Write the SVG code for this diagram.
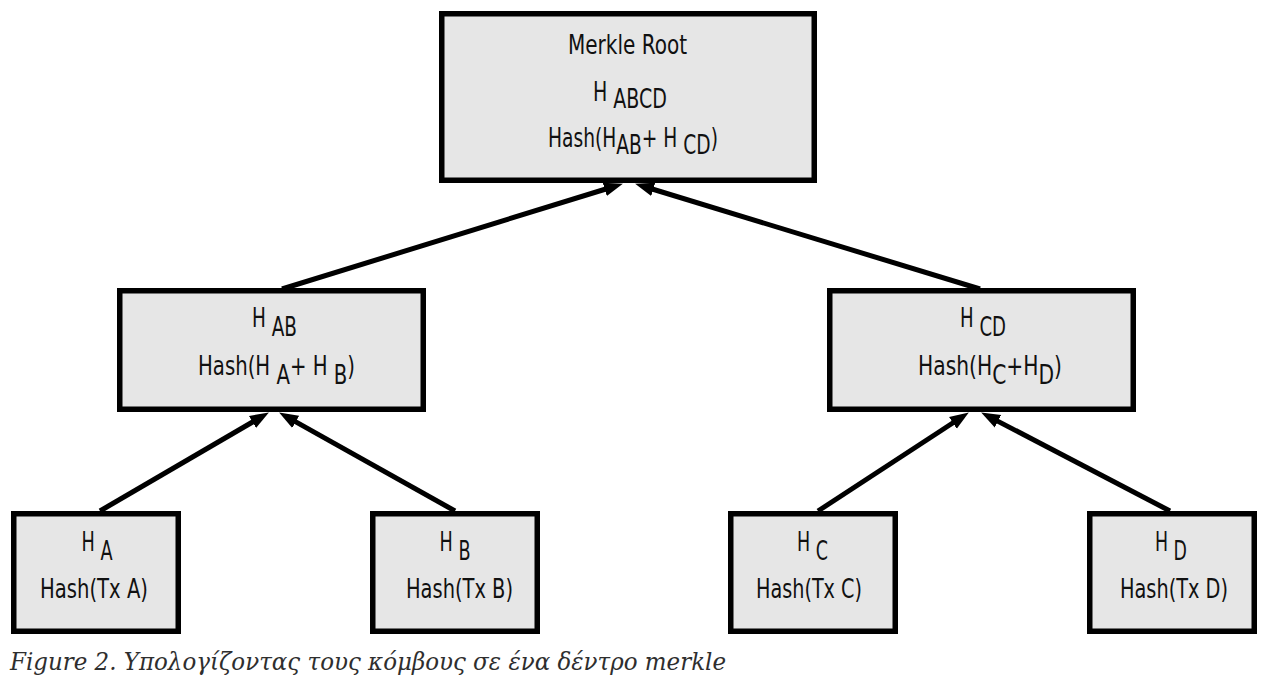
<svg xmlns="http://www.w3.org/2000/svg" width="1273" height="688" viewBox="0 0 1273 688">
<defs>
<style>
.box{fill:#e6e6e6;stroke:#000;stroke-width:5.5}
.t{font-family:"DejaVu Sans Condensed","Liberation Sans Narrow","Liberation Sans",sans-serif;font-size:26px;fill:#111;text-anchor:middle}
.c{stroke:#000;stroke-width:5;fill:none;marker-end:url(#ah)}
.cap{font-family:"DejaVu Serif","Liberation Serif",serif;font-style:italic;font-size:24px;fill:#2e2e2e}
</style>
<marker id="ah" markerUnits="userSpaceOnUse" markerWidth="20" markerHeight="16" refX="8" refY="8" orient="auto">
<path d="M0,1 L19,8 L0,15 z" fill="#000"/>
</marker>
</defs>
<rect width="1273" height="688" fill="#fff"/>
<g id="connectors">
<line class="c" x1="100" y1="511" x2="259.4" y2="418"/>
<line class="c" x1="455" y1="511" x2="288.7" y2="417.9"/>
<line class="c" x1="818" y1="511" x2="959.6" y2="418.5"/>
<line class="c" x1="1170" y1="511" x2="990.9" y2="417.6"/>
<line class="c" x1="282" y1="289" x2="612.4" y2="187"/>
<line class="c" x1="980" y1="289" x2="645.6" y2="187"/>
</g>
<g id="root">
<rect class="box" x="441.75" y="13.75" width="372.5" height="166.5"/>
<text class="t" x="627.5" y="54" textLength="119" lengthAdjust="spacingAndGlyphs">Merkle Root</text>
<text class="t" x="630" y="101" textLength="74" lengthAdjust="spacingAndGlyphs">H <tspan dy="7">ABCD</tspan></text>
<text class="t" x="633" y="147" textLength="170" lengthAdjust="spacingAndGlyphs">Hash(H<tspan dy="7">AB</tspan><tspan dy="-7">+ H </tspan><tspan dy="7">CD</tspan><tspan dy="-7">)</tspan></text>
</g>
<g id="hab">
<rect class="box" x="119.75" y="290.75" width="303.5" height="118.5"/>
<text class="t" x="274.5" y="327" textLength="45" lengthAdjust="spacingAndGlyphs">H <tspan dy="9">AB</tspan></text>
<text class="t" x="276.5" y="375" textLength="157" lengthAdjust="spacingAndGlyphs">Hash(H<tspan dy="9"> A</tspan><tspan dy="-9">+ H </tspan><tspan dy="9">B</tspan><tspan dy="-9">)</tspan></text>
</g>
<g id="hcd">
<rect class="box" x="829.75" y="290.75" width="303.5" height="118.5"/>
<text class="t" x="983" y="327" textLength="46" lengthAdjust="spacingAndGlyphs">H <tspan dy="9">CD</tspan></text>
<text class="t" x="990" y="375" textLength="144" lengthAdjust="spacingAndGlyphs">Hash(H<tspan dy="9">C</tspan><tspan dy="-9">+H</tspan><tspan dy="9">D</tspan><tspan dy="-9">)</tspan></text>
</g>
<g id="ha">
<rect class="box" x="13.75" y="513.75" width="164.5" height="117.5"/>
<text class="t" x="97" y="551" textLength="31" lengthAdjust="spacingAndGlyphs">H <tspan dy="9">A</tspan></text>
<text class="t" x="94" y="598" textLength="108" lengthAdjust="spacingAndGlyphs">Hash(Tx A)</text>
</g>
<g id="hb">
<rect class="box" x="372.75" y="513.75" width="164.5" height="117.5"/>
<text class="t" x="455" y="551" textLength="31" lengthAdjust="spacingAndGlyphs">H <tspan dy="9">B</tspan></text>
<text class="t" x="459.5" y="598" textLength="107" lengthAdjust="spacingAndGlyphs">Hash(Tx B)</text>
</g>
<g id="hc">
<rect class="box" x="730.75" y="513.75" width="164.5" height="117.5"/>
<text class="t" x="812.5" y="551" textLength="31" lengthAdjust="spacingAndGlyphs">H <tspan dy="9">C</tspan></text>
<text class="t" x="809" y="598" textLength="106" lengthAdjust="spacingAndGlyphs">Hash(Tx C)</text>
</g>
<g id="hd">
<rect class="box" x="1089.75" y="513.75" width="164.5" height="117.5"/>
<text class="t" x="1171" y="551" textLength="32" lengthAdjust="spacingAndGlyphs">H <tspan dy="9">D</tspan></text>
<text class="t" x="1174" y="598" textLength="108" lengthAdjust="spacingAndGlyphs">Hash(Tx D)</text>
</g>
<text class="cap" x="10" y="670" textLength="716" lengthAdjust="spacingAndGlyphs">Figure 2. Υπολογίζοντας τους κόμβους σε ένα δέντρο merkle</text>
</svg>
